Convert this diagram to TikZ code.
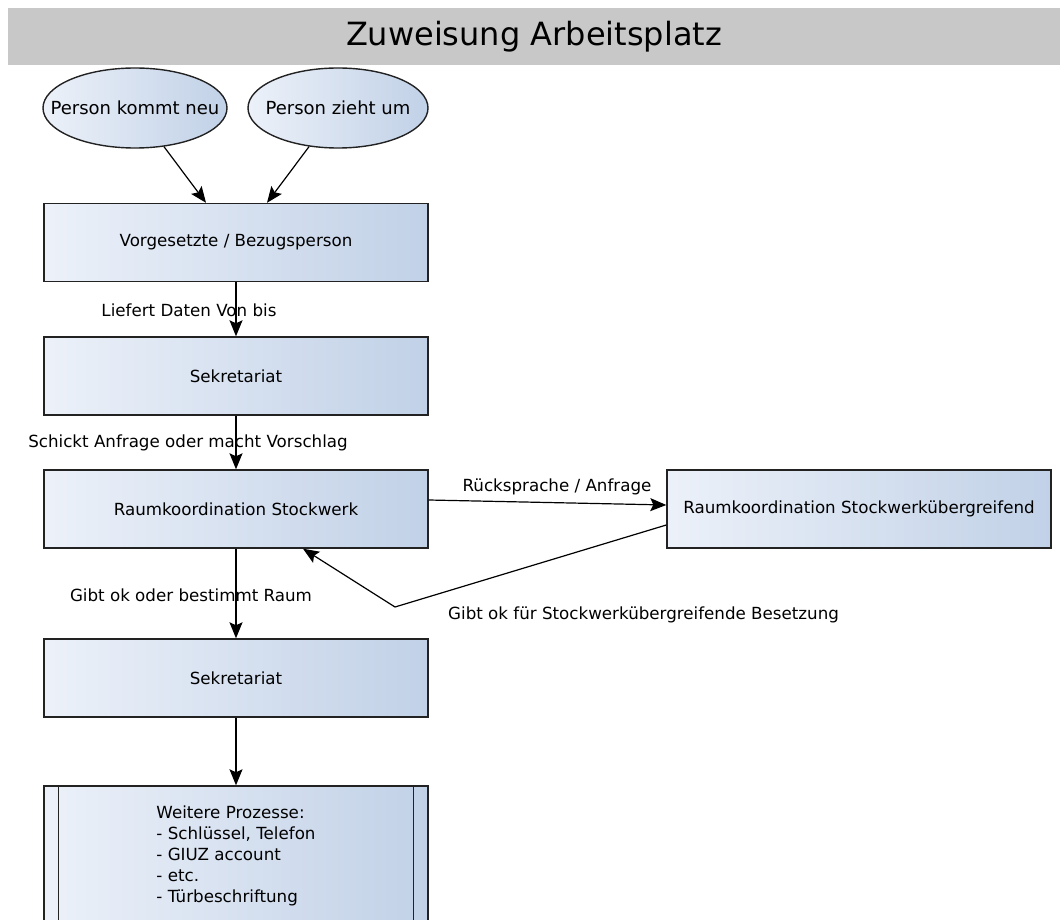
\documentclass[tikz,border=0pt]{standalone}
\usepackage{fontspec}
\setmainfont{DejaVu Sans}
\usetikzlibrary{shapes.geometric, calc, arrows.meta}
\definecolor{boxhell}{RGB}{236,241,249}
\definecolor{boxdunkel}{RGB}{193,209,231}
\definecolor{balken}{RGB}{200,200,200}
\definecolor{rand}{RGB}{34,34,34}
\tikzset{
  prozess/.style={draw=rand, line width=1.4pt, left color=boxhell, right color=boxdunkel,
    minimum width=384pt, minimum height=78pt, inner sep=0pt, font=\fontsize{16.7}{21}\selectfont},
  ereignis/.style={ellipse, draw=rand, line width=1.4pt, left color=boxhell, right color=boxdunkel,
    minimum width=182pt, minimum height=80pt, inner xsep=-40pt, inner ysep=0pt, font=\fontsize{18}{22}\selectfont},
  beschr/.style={inner sep=0pt, font=\fontsize{16.7}{21}\selectfont},
  pfeil/.style={line width=1.2pt, -{Stealth[length=16pt, width=13pt, inset=3pt]}},
}

\begin{document}
\begin{tikzpicture}[x=1pt, y=-1pt]
    \useasboundingbox (0,0) rectangle (1060,920);
    \clip (0,0) rectangle (1060,920);
    \node[fill=balken, minimum width=1052pt, minimum height=57pt, inner sep=0pt,
      font=\fontsize{32}{36}\selectfont] (titel) at (534,36.5) {Zuweisung Arbeitsplatz};

    \node[ereignis, minimum width=184pt] (neu) at (135,108) {Person kommt neu};
    \node[ereignis, minimum width=180pt] (umzug) at (338,108) {Person zieht um};

    \node[prozess] (vb) at (236,242.5) {Vorgesetzte / Bezugsperson};
    \node[prozess] (sek1) at (236,376) {Sekretariat};
    \node[prozess] (rk) at (236,509) {Raumkoordination Stockwerk};
    \node[prozess] (rku) at (859,509) {Raumkoordination Stockwerkübergreifend};
    \node[prozess] (sek2) at (236,678) {Sekretariat};
    \node[prozess, minimum height=140pt] (wp) at (236,856) {};
    \node[beschr, align=left] (wptext) at (236,856) {Weitere Prozesse:\\- Schlüssel, Telefon\\- GIUZ account\\- etc.\\- Türbeschriftung};
    \draw[rand, line width=1.4pt] ([xshift=15pt]wp.north west) -- ([xshift=15pt]wp.south west);
    \draw[rand, line width=1.4pt] ([xshift=-15pt]wp.north east) -- ([xshift=-15pt]wp.south east);

    \draw[pfeil] (neu) -- ($(vb.north)+(-30,0)$);
    \draw[pfeil] (umzug) -- ($(vb.north)+(31,0)$);
    \draw[pfeil] (vb) -- (sek1);
    \draw[pfeil] (sek1) -- (rk);
    \draw[pfeil] ($(rk.east)+(0,-9)$) -- ($(rku.west)+(0,-4)$);
    \coordinate (knick) at (395,607);
    \draw[pfeil] ($(rku.west)+(0,16)$) -- (knick) -- ($(rk.south)+(67,0)$);
    \draw[pfeil] (rk) -- (sek2);
    \draw[pfeil] (sek2) -- (wp);

    \node[beschr] (l1) at (189,310) {Liefert Daten Von bis};
    \node[beschr] (l2) at (188,443) {Schickt Anfrage oder macht Vorschlag};
    \node[beschr] (l3) at (557,487) {Rücksprache / Anfrage};
    \node[beschr, anchor=west] (l4) at (448,615) {Gibt ok für Stockwerkübergreifende Besetzung};
    \node[beschr] (l5) at (191,595) {Gibt ok oder bestimmt Raum};
  \end{tikzpicture}
\end{document}
